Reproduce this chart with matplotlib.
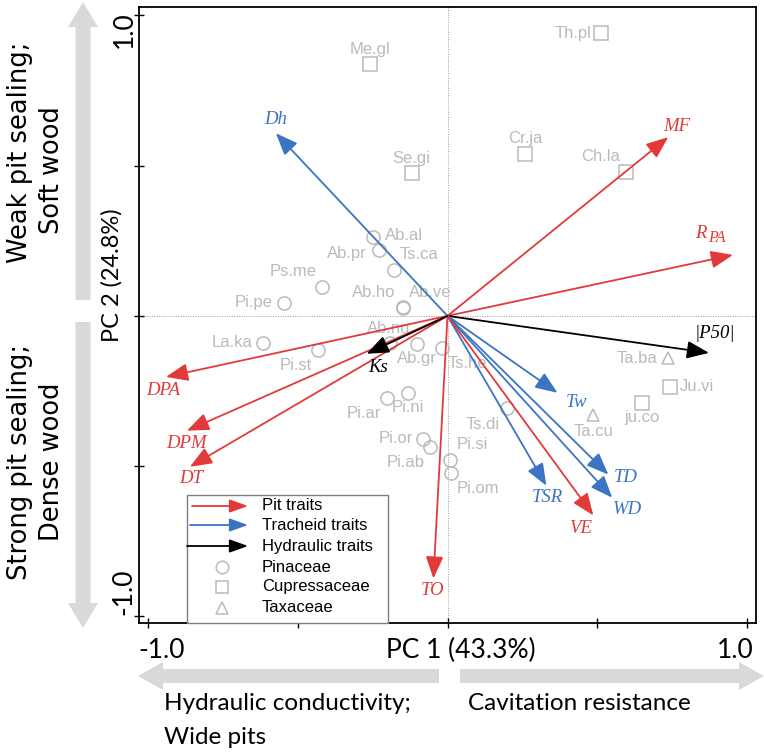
import numpy as np
import matplotlib
matplotlib.use("Agg")
import matplotlib.pyplot as plt
from matplotlib.patches import FancyArrow, Rectangle

# trait loadings (PC1, PC2)
trait_names = ['Dh', 'MF', 'RPA', 'P50', 'Tw', 'TD', 'WD', 'TSR', 'VE', 'TO', 'DPA', 'DPM', 'DT', 'Ks']
trait_pc1 = [-0.573, 0.737, 0.953, 0.873, 0.367, 0.537, 0.550, 0.330, 0.487, -0.047, -0.940, -0.870, -0.860, -0.270]
trait_pc2 = [0.608, 0.595, 0.203, -0.123, -0.256, -0.528, -0.605, -0.565, -0.664, -0.874, -0.203, -0.382, -0.502, -0.126]
trait_group = ['tracheid', 'pit', 'pit', 'hydraulic', 'tracheid', 'tracheid', 'tracheid', 'tracheid',
               'pit', 'pit', 'pit', 'pit', 'pit', 'hydraulic']
trait_text = {'Dh': 'Dh', 'MF': 'MF', 'RPA': 'R', 'P50': '|P50|', 'Tw': 'Tw', 'TD': 'TD',
              'WD': 'WD', 'TSR': 'TSR', 'VE': 'VE', 'TO': 'TO', 'DPA': 'DPA', 'DPM': 'DPM',
              'DT': 'DT', 'Ks': 'Ks'}

# species scores (PC1, PC2)
species = ['Me.gl', 'Se.gi', 'Ab.al', 'Ab.pr', 'Ts.ca', 'Ps.me', 'Ab.ho', 'Ab.ve', 'Pi.pe',
           'Th.pl', 'Cr.ja', 'Ch.la', 'La.ka', 'Pi.st', 'Ab.nu', 'Ab.gr', 'Ts.he', 'Pi.ar',
           'Pi.ni', 'Pi.or', 'Pi.ab', 'Pi.si', 'Pi.om', 'Ts.di', 'Ta.ba', 'Ju.vi', 'ju.co', 'Ta.cu']
sp_pc1 = [-0.26, -0.12, -0.25, -0.23, -0.18, -0.42, -0.15, -0.147, -0.547,
          0.513, 0.26, 0.597, -0.617, -0.433, -0.193, -0.103, -0.017, -0.203,
          -0.133, -0.083, -0.057, 0.007, 0.013, 0.197, 0.737, 0.743, 0.65, 0.487]
sp_pc2 = [0.837, 0.475, 0.262, 0.219, 0.153, 0.096, 0.027, 0.030, 0.043,
          0.940, 0.538, 0.478, -0.090, -0.113, -0.090, -0.093, -0.106, -0.272,
          -0.256, -0.409, -0.435, -0.478, -0.522, -0.306, -0.140, -0.236, -0.289, -0.329]
family = ['Cupressaceae', 'Cupressaceae', 'Pinaceae', 'Pinaceae', 'Pinaceae', 'Pinaceae', 'Pinaceae',
          'Pinaceae', 'Pinaceae', 'Cupressaceae', 'Cupressaceae', 'Cupressaceae', 'Pinaceae',
          'Pinaceae', 'Pinaceae', 'Pinaceae', 'Pinaceae', 'Pinaceae', 'Pinaceae', 'Pinaceae',
          'Pinaceae', 'Pinaceae', 'Pinaceae', 'Pinaceae', 'Taxaceae', 'Cupressaceae',
          'Cupressaceae', 'Taxaceae']

# label placement (pixel offsets from the point, y down)
trait_off = {'Dh': (0, -14), 'MF': (9, -11), 'RPA': (-32, -21), 'P50': (6, -19), 'Tw': (19, 10),
             'TD': (17, 3), 'WD': (15, 12), 'TSR': (1, 12), 'VE': (-13, 13), 'TO': (-1, 12),
             'DPA': (-3, 14), 'DPM': (0, 13), 'DT': (1, 12), 'Ks': (11, 14)}
sp_off = {'Me.gl': (0, -15), 'Se.gi': (0, -15), 'Ab.al': (31, -2), 'Ab.pr': (-32, 3),
          'Ts.ca': (25, -15), 'Ps.me': (-29, -16), 'Ab.ho': (-29, -15), 'Ab.ve': (27, -14),
          'Pi.pe': (-30, 0), 'Th.pl': (-28, 0), 'Cr.ja': (0, -16), 'Ch.la': (-26, -16),
          'La.ka': (-31, 0), 'Pi.st': (-22, 16), 'Ab.nu': (-1, -14), 'Ab.gr': (0, 15),
          'Ts.he': (25, 16), 'Pi.ar': (-23, 16), 'Pi.ni': (0, 15), 'Pi.or': (-27, 0),
          'Pi.ab': (-25, 16), 'Pi.si': (23, -15), 'Pi.om': (27, 16), 'Ts.di': (-24, 17),
          'Ta.ba': (-31, 1), 'Ju.vi': (27, 0), 'ju.co': (0, 15), 'Ta.cu': (0, 17)}

colors = {'pit': '#e23a3a', 'tracheid': '#3b74c2', 'hydraulic': 'black'}
markers = {'Pinaceae': 'o', 'Cupressaceae': 's', 'Taxaceae': '^'}
grey = '#bababa'
px = 0.72  # points per pixel at dpi 100

fig = plt.figure(figsize=(7.64, 7.54), dpi=100)
ax = fig.add_axes([139/764, 1-623/754, (756-139)/764, (623-7)/754])
ax.set_xlim(-1.030, 1.030)
ax.set_ylim(-1.022, 1.028)

ax.axhline(0, color='#999999', ls=(0, (1, 1.5)), lw=0.7, zorder=1)
ax.axvline(0, color='#999999', ls=(0, (1, 1.5)), lw=0.7, zorder=1)

# species
for i, s in enumerate(species):
    ms = 9.5 if markers[family[i]] != '^' else 8
    ax.plot(sp_pc1[i], sp_pc2[i], marker=markers[family[i]], ms=ms, mfc='none', mec=grey,
            mew=1.1, ls='none', zorder=2)
    dx, dy = sp_off[s]
    ax.annotate(s, (sp_pc1[i], sp_pc2[i]), xytext=(dx*px, -dy*px), textcoords='offset points',
                ha='center', va='center', color=grey, fontsize=12, family='Liberation Sans', zorder=2)

# trait arrows
for i, t in enumerate(trait_names):
    c = colors[trait_group[i]]
    ax.annotate('', xy=(trait_pc1[i], trait_pc2[i]), xytext=(0, 0),
                arrowprops=dict(arrowstyle='-|>,head_length=0.75,head_width=0.3', color=c, lw=1.3,
                                shrinkA=0, shrinkB=0, mutation_scale=18), zorder=3)
    dx, dy = trait_off[t]
    ax.annotate(trait_text[t], (trait_pc1[i], trait_pc2[i]), xytext=(dx*px, -dy*px),
                textcoords='offset points', ha='center', va='center', color=c, fontsize=13.5,
                family='Liberation Serif', style='italic', zorder=4)
    if t == 'RPA':
        ax.annotate('PA', (trait_pc1[i], trait_pc2[i]), xytext=((dx + 16)*px, -(dy + 4)*px),
                    textcoords='offset points', ha='center', va='center', color=c, fontsize=11.5,
                    family='Liberation Serif', style='italic', zorder=4)

ax.set_xticks([-1, -0.5, 0, 0.5, 1])
ax.set_yticks([-1, -0.5, 0, 0.5, 1])
ax.set_xticklabels([])
ax.set_yticklabels([])
ax.tick_params(direction='inout', length=7, width=1)
ax.get_yticklines()[2].set_color('#e23a3a')
for sp in ax.spines.values():
    sp.set_linewidth(1.3)

# overlay in pixel coordinates for side annotations and legend
ov = fig.add_axes([0, 0, 1, 1], zorder=5)
ov.set_xlim(0, 764)
ov.set_ylim(754, 0)
ov.axis('off')
ov.patch.set_alpha(0)

band = '#d9d9d9'
ov.add_patch(FancyArrow(439, 676, -276, 0, width=14, head_width=28, head_length=25,
                        length_includes_head=False, color=band, lw=0))
ov.add_patch(FancyArrow(460, 676, 279, 0, width=14, head_width=28, head_length=25,
                        length_includes_head=False, color=band, lw=0))
ov.add_patch(FancyArrow(83, 300, 0, -273, width=15, head_width=30, head_length=25, color=band, lw=0))
ov.add_patch(FancyArrow(83, 322, 0, 281, width=15, head_width=30, head_length=25, color=band, lw=0))

sans = 'Lato'
ov.text(162, 650, '-1.0', ha='center', va='center', fontsize=19, family=sans)
ov.text(735, 650, '1.0', ha='center', va='center', fontsize=19, family=sans)
ov.text(461, 650, 'PC 1 (43.3%)', ha='center', va='center', fontsize=19, family=sans)
ov.text(164, 703, 'Hydraulic conductivity;', ha='left', va='center', fontsize=17.5, family=sans)
ov.text(164, 737, 'Wide pits', ha='left', va='center', fontsize=17.5, family=sans)
ov.text(468, 703, 'Cavitation resistance', ha='left', va='center', fontsize=17.5, family=sans)

side = 'DejaVu Sans'
ov.text(20, 152, 'Weak pit sealing;', rotation=90, ha='center', va='center', fontsize=18.5, family=side)
ov.text(52, 170, 'Soft wood', rotation=90, ha='center', va='center', fontsize=18.5, family=side)
ov.text(20, 462, 'Strong pit sealing;', rotation=90, ha='center', va='center', fontsize=18.5, family=side)
ov.text(52, 462, 'Dense wood', rotation=90, ha='center', va='center', fontsize=18.5, family=side)
ov.text(112, 275, 'PC 2 (24.8%)', rotation=90, ha='center', va='center', fontsize=17, family=sans)
ov.text(124, 30, '1.0', rotation=90, ha='center', va='center', fontsize=19, family=sans)
ov.text(124, 592, '-1.0', rotation=90, ha='center', va='center', fontsize=19, family=sans)

# legend
ov.add_patch(Rectangle((187, 495), 201, 128, fc='white', ec='#7f7f7f', lw=1))
leg_rows = [506, 525, 546, 567, 587, 608]
for y, key, x0, lab in zip(leg_rows[:3], ['pit', 'tracheid', 'hydraulic'], [192, 190, 187],
                           ['Pit traits', 'Tracheid traits', 'Hydraulic traits']):
    ov.annotate('', xy=(248, y), xytext=(x0, y),
                arrowprops=dict(arrowstyle='-|>,head_length=0.7,head_width=0.25', color=colors[key],
                                lw=1.3, shrinkA=0, shrinkB=0, mutation_scale=16))
    ov.text(262, y, lab, ha='left', va='center', fontsize=12, family='Liberation Sans')
for y, fam in zip(leg_rows[3:], ['Pinaceae', 'Cupressaceae', 'Taxaceae']):
    ov.plot(222, y, marker=markers[fam], ms=9, mfc='none', mec=grey, mew=1.1, ls='none')
    ov.text(262, y, fam, ha='left', va='center', fontsize=12, family='Liberation Sans')

fig.savefig('out.png', dpi=100)
